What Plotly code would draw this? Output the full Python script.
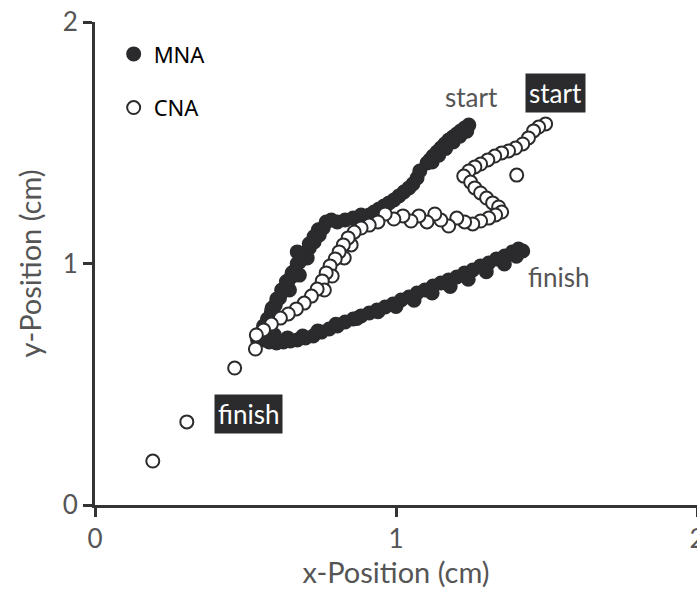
import plotly.graph_objects as go

# MNA trajectory (filled markers), data units (cm)
mna_x = [1.242, 1.228, 1.215, 1.202, 1.189, 1.175, 1.162, 1.149, 1.136, 1.123, 1.113, 1.103,
         1.235, 1.212, 1.190, 1.165, 1.142, 1.120,
         1.079, 1.070, 1.056, 1.043, 1.026, 1.010, 0.993, 0.977, 0.960, 0.944, 0.927, 0.911,
         0.884, 0.858, 0.831, 0.805, 0.785, 0.768, 0.758, 0.745, 0.728, 0.712, 0.705, 0.695,
         0.672, 0.679, 0.666, 0.679, 0.652, 0.639, 0.646, 0.626, 0.613, 0.599, 0.586, 0.573,
         0.560, 0.550, 0.573, 0.540, 0.596,
         0.742, 0.728, 0.712, 0.690, 0.672, 0.655, 0.636, 0.620, 0.604, 0.588,
         0.560, 0.579, 0.603, 0.626, 0.649, 0.672, 0.699, 0.725, 0.752, 0.778, 0.805, 0.831,
         0.858, 0.884, 0.911, 0.937, 0.964, 0.990, 1.017, 1.043, 1.070, 1.096, 1.123, 1.149,
         1.175, 1.202, 1.228, 1.255, 1.281, 1.308, 1.334, 1.361, 1.387, 1.407, 1.421,
         0.590, 0.640, 0.690, 0.740, 0.800, 0.870, 0.940, 1.000, 1.060, 1.120, 1.180, 1.240,
         1.300, 1.360, 1.400]
mna_y = [1.573, 1.561, 1.549, 1.536, 1.524, 1.511, 1.495, 1.478, 1.462, 1.445, 1.429, 1.416,
         1.548, 1.527, 1.503, 1.476, 1.448, 1.420,
         1.383, 1.354, 1.329, 1.313, 1.296, 1.280, 1.263, 1.251, 1.238, 1.226, 1.213, 1.201,
         1.201, 1.188, 1.180, 1.172, 1.180, 1.172, 1.147, 1.118, 1.089, 1.064, 1.023, 1.035,
         1.048, 1.006, 0.973, 0.952, 0.944, 0.915, 0.890, 0.886, 0.857, 0.828, 0.799, 0.770,
         0.741, 0.712, 0.716, 0.683, 0.704,
         1.140, 1.112, 1.082, 1.040, 1.000, 0.962, 0.925, 0.890, 0.853, 0.815,
         0.683, 0.675, 0.671, 0.675, 0.679, 0.683, 0.692, 0.700, 0.716, 0.729, 0.741, 0.758,
         0.770, 0.783, 0.795, 0.807, 0.820, 0.832, 0.849, 0.861, 0.878, 0.890, 0.907, 0.919,
         0.932, 0.944, 0.961, 0.973, 0.990, 1.002, 1.019, 1.031, 1.048, 1.060, 1.052,
         0.700, 0.692, 0.700, 0.720, 0.748, 0.772, 0.800, 0.822, 0.848, 0.878, 0.905, 0.935,
         0.966, 0.998, 1.030]

# CNA trajectory (open markers), data units (cm)
cna_x = [1.497, 1.474, 1.457, 1.440, 1.421, 1.397, 1.374, 1.351, 1.328, 1.305, 1.281, 1.262,
         1.242, 1.225, 1.401, 1.248, 1.262, 1.281, 1.301, 1.321, 1.341, 1.351, 1.331, 1.308,
         1.281, 1.255, 1.228, 1.202, 1.175, 1.149, 1.129, 1.103, 1.076, 1.050, 1.023, 0.993,
         0.964, 0.940, 0.911, 0.884, 0.861, 0.851, 0.841, 0.825, 0.828, 0.811, 0.798, 0.781,
         0.788, 0.768, 0.755, 0.762, 0.738, 0.719, 0.695, 0.669, 0.642, 0.616, 0.586, 0.560,
         0.536, 0.533, 0.464, 0.305, 0.192]
cna_y = [1.578, 1.565, 1.549, 1.520, 1.495, 1.478, 1.466, 1.458, 1.445, 1.429, 1.412, 1.400,
         1.383, 1.362, 1.366, 1.337, 1.313, 1.292, 1.271, 1.251, 1.234, 1.213, 1.201, 1.188,
         1.176, 1.164, 1.172, 1.188, 1.155, 1.180, 1.205, 1.172, 1.197, 1.176, 1.197, 1.184,
         1.205, 1.172, 1.159, 1.147, 1.130, 1.077, 1.106, 1.077, 1.023, 1.048, 1.019, 0.990,
         0.948, 0.961, 0.928, 0.890, 0.894, 0.865, 0.836, 0.812, 0.791, 0.774, 0.749, 0.725,
         0.704, 0.646, 0.567, 0.344, 0.182]

ink = "#2b2b2e"
grey = "#555555"

fig = go.Figure()
fig.add_trace(go.Scatter(
    x=mna_x, y=mna_y, mode="markers", name="MNA", legend="legend",
    marker=dict(size=13, color=ink, line=dict(color=ink, width=2)),
))
fig.add_trace(go.Scatter(
    x=cna_x, y=cna_y, mode="markers", name="CNA", legend="legend2",
    marker=dict(size=13, color="white", line=dict(color=ink, width=2)),
))

axis_common = dict(
    showgrid=False, zeroline=False, showline=True, linecolor="#333333", linewidth=3,
    ticks="outside", ticklen=9, tickwidth=3, tickcolor="#333333",
    tickfont=dict(family="Lato", size=26, color=grey), ticklabeloverflow="allow",
)
fig.update_xaxes(range=[0, 2], tickvals=[0, 1, 2],
                 title=dict(text="x-Position (cm)", font=dict(family="Lato", size=29, color=grey),
                            standoff=3),
                 **axis_common)
fig.update_yaxes(range=[0, 2], tickvals=[0, 1, 2],
                 title=dict(text="y-Position (cm)", font=dict(family="Lato", size=29, color=grey),
                            standoff=13),
                 **axis_common)

legend_font = dict(family="Noto Sans", size=22, color="black")
fig.update_layout(
    width=697, height=589,
    margin=dict(l=95, r=0, t=22, b=84, autoexpand=False),
    plot_bgcolor="white", paper_bgcolor="white",
    showlegend=True,
    legend=dict(x=0.031, y=0.977, xanchor="left", yanchor="top", font=legend_font,
                bgcolor="rgba(0,0,0,0)", itemsizing="trace"),
    legend2=dict(x=0.031, y=0.866, xanchor="left", yanchor="top", font=legend_font,
                 bgcolor="rgba(0,0,0,0)", itemsizing="trace"),
    annotations=[
        dict(x=1.250, y=1.689, xref="x", yref="y", text="start", showarrow=False,
             font=dict(family="Lato", size=26, color=grey)),
        dict(x=1.530, y=1.706, xref="x", yref="y", text="start", showarrow=False,
             font=dict(family="Lato", size=26, color="white"), bgcolor=ink, borderpad=3),
        dict(x=1.540, y=0.944, xref="x", yref="y", text="finish", showarrow=False,
             font=dict(family="Lato", size=26, color=grey)),
        dict(x=0.510, y=0.377, xref="x", yref="y", text="finish", showarrow=False,
             font=dict(family="Lato", size=26, color="white"), bgcolor=ink, borderpad=3),
    ],
)

fig.write_html("out.html", config={"displayModeBar": False},
               post_script="document.body.style.margin='0';")
